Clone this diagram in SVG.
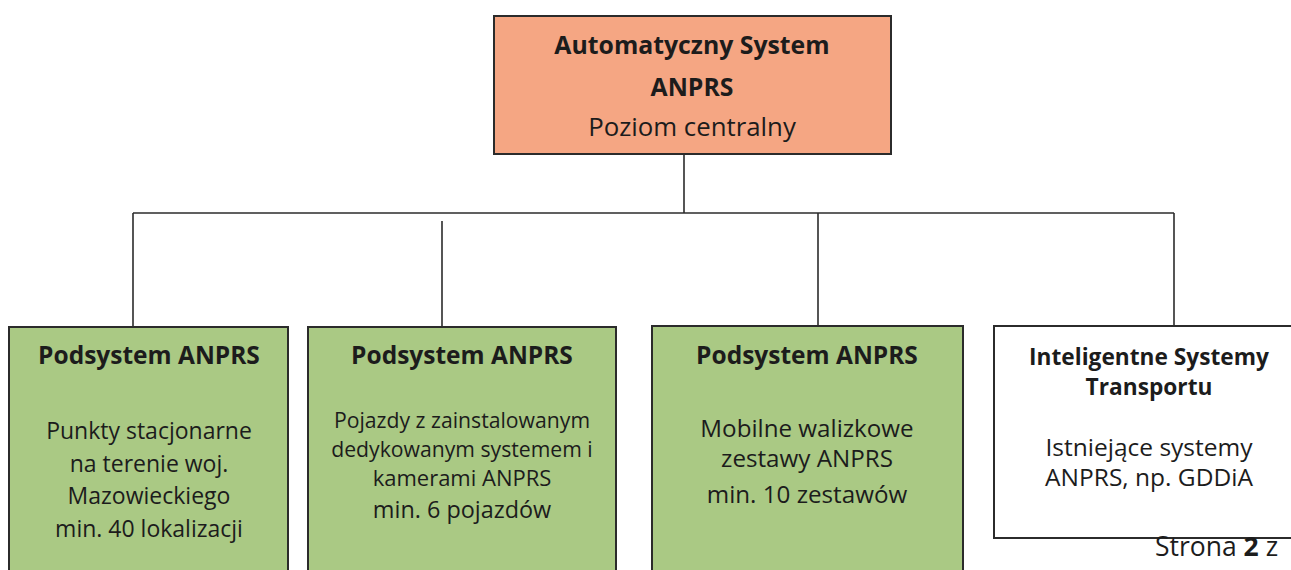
<svg xmlns="http://www.w3.org/2000/svg" width="1291" height="570" viewBox="0 0 1291 570">
<style>
.box{stroke:#2b2b2b;stroke-width:2}
.top{fill:#F5A683}
.green{fill:#AAC984}
.white{fill:#ffffff}
text{font-family:"Open Sans",Lato,sans-serif;fill:#1c1c1c;text-anchor:middle}
.b{font-weight:bold}
.conn{stroke:#2b2b2b;stroke-width:1.6;fill:none}
</style>
<rect width="1291" height="570" fill="#ffffff"/>
<g id="connectors">
<line class="conn" x1="684" y1="154" x2="684" y2="213"/>
<line class="conn" x1="133" y1="213" x2="1174" y2="213"/>
<line class="conn" x1="133" y1="213" x2="133" y2="327"/>
<line class="conn" x1="442" y1="221" x2="442" y2="327"/>
<line class="conn" x1="818" y1="213" x2="818" y2="326"/>
<line class="conn" x1="1174" y1="213" x2="1174" y2="326"/>
</g>
<g id="central">
<rect class="box top" x="494" y="16" width="397" height="138"/>
<text class="b" x="692" y="54" font-size="24.8">Automatyczny System</text>
<text class="b" x="692" y="96" font-size="24.8">ANPRS</text>
<text x="692" y="136" font-size="25.8">Poziom centralny</text>
</g>
<g id="sub1">
<rect class="box green" x="9" y="327" width="279" height="250"/>
<text class="b" x="149" y="364" font-size="24.5">Podsystem ANPRS</text>
<text x="149" y="439" font-size="23">Punkty stacjonarne</text>
<text x="149" y="472" font-size="23">na terenie woj.</text>
<text x="149" y="504" font-size="23">Mazowieckiego</text>
<text x="149" y="537" font-size="23">min. 40 lokalizacji</text>
</g>
<g id="sub2">
<rect class="box green" x="308" y="327" width="308" height="250"/>
<text class="b" x="462" y="364" font-size="24.5">Podsystem ANPRS</text>
<text x="462" y="428" font-size="21.2">Pojazdy z zainstalowanym</text>
<text x="462" y="457" font-size="21.2">dedykowanym systemem i</text>
<text x="462" y="486" font-size="22">kamerami ANPRS</text>
<text x="462" y="518" font-size="23.4">min. 6 pojazdów</text>
</g>
<g id="sub3">
<rect class="box green" x="652" y="326" width="311" height="251"/>
<text class="b" x="807" y="364" font-size="24.5">Podsystem ANPRS</text>
<text x="807" y="437" font-size="24.2">Mobilne walizkowe</text>
<text x="807" y="467" font-size="24.2">zestawy ANPRS</text>
<text x="807" y="503" font-size="24.2">min. 10 zestawów</text>
</g>
<g id="its">
<rect class="box white" x="994" y="326" width="310" height="212"/>
<text class="b" x="1149" y="365" font-size="22.7">Inteligentne Systemy</text>
<text class="b" x="1149" y="395" font-size="22.7">Transportu</text>
<text x="1149" y="456" font-size="24.5">Istniejące systemy</text>
<text x="1149" y="486" font-size="24.5">ANPRS, np. GDDiA</text>
</g>
<text x="1155" y="556" font-size="26.5" style="text-anchor:start">Strona <tspan class="b">2</tspan> z</text>
</svg>
